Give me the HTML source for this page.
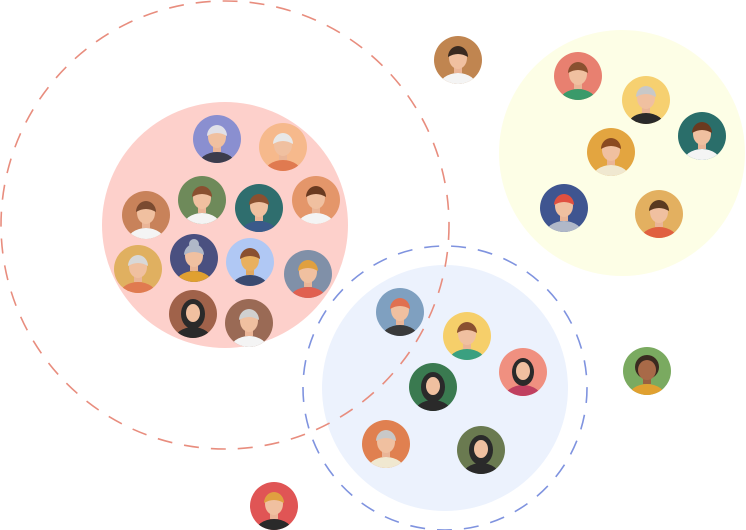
<!DOCTYPE html>
<html><head><meta charset="utf-8"><style>
html,body{margin:0;padding:0;background:#fff;width:746px;height:530px;overflow:hidden}
svg{display:block}
</style></head><body>
<svg width="746" height="530" viewBox="0 0 746 530" xmlns="http://www.w3.org/2000/svg">
<defs><clipPath id="c"><circle r="24"/></clipPath>
<g id="face">
</g></defs>
<circle cx="622" cy="153" r="123" fill="#fdfee6"/>
<circle cx="225" cy="225" r="123" fill="#fdd0cb"/>
<circle cx="445" cy="388" r="123" fill="#ecf2fd"/>
<circle cx="225" cy="225" r="224" fill="none" stroke="#e88d7e" stroke-width="1.6" stroke-dasharray="15 12"/>
<circle cx="445" cy="388" r="142" fill="none" stroke="#7f93df" stroke-width="1.6" stroke-dasharray="15 12"/>
<g id="avs"></g>
<!-- avatars -->
<g transform="translate(217,139)"><circle r="24" fill="#8a8fd0"/><g clip-path="url(#c)"><ellipse cy="27" rx="19" ry="14" fill="#3c3c4c"/><rect x="-4" y="3" width="8" height="10" fill="#eab597"/><ellipse cy="-2" rx="9" ry="11" fill="#f0c0a0"/><path d="M-10,-3 a10,11 0 0 1 20,0 Q0,-9 -10,-3z" fill="#e0e0e8"/></g></g>
<g transform="translate(283,147)"><circle r="24" fill="#f6b98c"/><g clip-path="url(#c)"><ellipse cy="27" rx="19" ry="14" fill="#e07a50"/><rect x="-4" y="3" width="8" height="10" fill="#eab597"/><ellipse cy="-2" rx="9" ry="11" fill="#f0c0a0"/><path d="M-10,-3 a10,11 0 0 1 20,0 Q0,-9 -10,-3z" fill="#e8e8e8"/></g></g>
<g transform="translate(146,215)"><circle r="24" fill="#c8825a"/><g clip-path="url(#c)"><ellipse cy="27" rx="19" ry="14" fill="#f4f4f4"/><rect x="-4" y="3" width="8" height="10" fill="#eab597"/><ellipse cy="-2" rx="9" ry="11" fill="#f0c0a0"/><path d="M-10,-3 a10,11 0 0 1 20,0 Q0,-9 -10,-3z" fill="#7a4a30"/></g></g>
<g transform="translate(202,200)"><circle r="24" fill="#6e8a5a"/><g clip-path="url(#c)"><ellipse cy="27" rx="19" ry="14" fill="#f4f4f4"/><rect x="-4" y="3" width="8" height="10" fill="#eab597"/><ellipse cy="-2" rx="9" ry="11" fill="#f0c0a0"/><path d="M-10,-3 a10,11 0 0 1 20,0 Q0,-9 -10,-3z" fill="#8a5030"/></g></g>
<g transform="translate(259,208)"><circle r="24" fill="#2f6e6e"/><g clip-path="url(#c)"><ellipse cy="27" rx="19" ry="14" fill="#3a5a8a"/><rect x="-4" y="3" width="8" height="10" fill="#eab597"/><ellipse cy="-2" rx="9" ry="11" fill="#f0c0a0"/><path d="M-10,-3 a10,11 0 0 1 20,0 Q0,-9 -10,-3z" fill="#8a5030"/></g></g>
<g transform="translate(316,200)"><circle r="24" fill="#e4966a"/><g clip-path="url(#c)"><ellipse cy="27" rx="19" ry="14" fill="#f4f4f4"/><rect x="-4" y="3" width="8" height="10" fill="#eab597"/><ellipse cy="-2" rx="9" ry="11" fill="#f0c0a0"/><path d="M-10,-3 a10,11 0 0 1 20,0 Q0,-9 -10,-3z" fill="#6a3a20"/></g></g>
<g transform="translate(138,269)"><circle r="24" fill="#e0b060"/><g clip-path="url(#c)"><ellipse cy="27" rx="19" ry="14" fill="#e07a50"/><rect x="-4" y="3" width="8" height="10" fill="#eab597"/><ellipse cy="-2" rx="9" ry="11" fill="#f0c0a0"/><path d="M-10,-3 a10,11 0 0 1 20,0 Q0,-9 -10,-3z" fill="#d8d8d8"/></g></g>
<g transform="translate(194,258)"><circle r="24" fill="#4a5080"/><g clip-path="url(#c)"><ellipse cy="27" rx="19" ry="14" fill="#e0a030"/><rect x="-4" y="3" width="8" height="10" fill="#eab597"/><ellipse cy="-2" rx="9" ry="11" fill="#f0c0a0"/><path d="M-10,-3 a10,11 0 0 1 20,0 Q0,-9 -10,-3z" fill="#b0b8c8"/><circle cy="-14" r="5" fill="#b0b8c8"/></g></g>
<g transform="translate(250,262)"><circle r="24" fill="#b0c8f4"/><g clip-path="url(#c)"><ellipse cy="27" rx="19" ry="14" fill="#3a4a70"/><rect x="-4" y="3" width="8" height="10" fill="#e0a860"/><ellipse cy="-2" rx="9" ry="11" fill="#e8b060"/><path d="M-10,-3 a10,11 0 0 1 20,0 Q0,-9 -10,-3z" fill="#8a5030"/></g></g>
<g transform="translate(308,274)"><circle r="24" fill="#8090a8"/><g clip-path="url(#c)"><ellipse cy="27" rx="19" ry="14" fill="#e06050"/><rect x="-4" y="3" width="8" height="10" fill="#eab597"/><ellipse cy="-2" rx="9" ry="11" fill="#f0c0a0"/><path d="M-10,-3 a10,11 0 0 1 20,0 Q0,-9 -10,-3z" fill="#e0a040"/></g></g>
<g transform="translate(193,314)"><circle r="24" fill="#a0624a"/><g clip-path="url(#c)"><ellipse cy="27" rx="19" ry="14" fill="#2a2a2a"/><ellipse cy="0" rx="12" ry="15" fill="#2a2a2a"/><ellipse cy="-1" rx="7" ry="9" fill="#f0c0a0"/></g></g>
<g transform="translate(249,323)"><circle r="24" fill="#9a6a55"/><g clip-path="url(#c)"><ellipse cy="27" rx="19" ry="14" fill="#f4f4f4"/><rect x="-4" y="3" width="8" height="10" fill="#eab597"/><ellipse cy="-2" rx="9" ry="11" fill="#f0c0a0"/><path d="M-10,-3 a10,11 0 0 1 20,0 Q0,-9 -10,-3z" fill="#d0d0d0"/></g></g>
<g transform="translate(458,60)"><circle r="24" fill="#c08550"/><g clip-path="url(#c)"><ellipse cy="27" rx="19" ry="14" fill="#f4f4f4"/><rect x="-4" y="3" width="8" height="10" fill="#eab597"/><ellipse cy="-2" rx="9" ry="11" fill="#f0c0a0"/><path d="M-10,-3 a10,11 0 0 1 20,0 Q0,-9 -10,-3z" fill="#3a2a20"/></g></g>
<g transform="translate(578,76)"><circle r="24" fill="#e88070"/><g clip-path="url(#c)"><ellipse cy="27" rx="19" ry="14" fill="#3a9a6a"/><rect x="-4" y="3" width="8" height="10" fill="#eab597"/><ellipse cy="-2" rx="9" ry="11" fill="#f0c0a0"/><path d="M-10,-3 a10,11 0 0 1 20,0 Q0,-9 -10,-3z" fill="#8a5030"/></g></g>
<g transform="translate(646,100)"><circle r="24" fill="#f6d070"/><g clip-path="url(#c)"><ellipse cy="27" rx="19" ry="14" fill="#2a2a2a"/><rect x="-4" y="3" width="8" height="10" fill="#eab597"/><ellipse cy="-2" rx="9" ry="11" fill="#f0c0a0"/><path d="M-10,-3 a10,11 0 0 1 20,0 Q0,-9 -10,-3z" fill="#c8c8c8"/></g></g>
<g transform="translate(702,136)"><circle r="24" fill="#2a6e6a"/><g clip-path="url(#c)"><ellipse cy="27" rx="19" ry="14" fill="#f4f4f4"/><rect x="-4" y="3" width="8" height="10" fill="#eab597"/><ellipse cy="-2" rx="9" ry="11" fill="#f0c0a0"/><path d="M-10,-3 a10,11 0 0 1 20,0 Q0,-9 -10,-3z" fill="#6a3a20"/></g></g>
<g transform="translate(611,152)"><circle r="24" fill="#e3a540"/><g clip-path="url(#c)"><ellipse cy="27" rx="19" ry="14" fill="#f0e8d0"/><rect x="-4" y="3" width="8" height="10" fill="#eab597"/><ellipse cy="-2" rx="9" ry="11" fill="#f0c0a0"/><path d="M-10,-3 a10,11 0 0 1 20,0 Q0,-9 -10,-3z" fill="#8a4a20"/></g></g>
<g transform="translate(564,208)"><circle r="24" fill="#3f5590"/><g clip-path="url(#c)"><ellipse cy="27" rx="19" ry="14" fill="#b0b8c8"/><rect x="-4" y="3" width="8" height="10" fill="#eab597"/><ellipse cy="-2" rx="9" ry="11" fill="#f0c0a0"/><path d="M-10,-3 a10,11 0 0 1 20,0 Q0,-9 -10,-3z" fill="#e05040"/></g></g>
<g transform="translate(659,214)"><circle r="24" fill="#e3b060"/><g clip-path="url(#c)"><ellipse cy="27" rx="19" ry="14" fill="#e06040"/><rect x="-4" y="3" width="8" height="10" fill="#eab597"/><ellipse cy="-2" rx="9" ry="11" fill="#f0c0a0"/><path d="M-10,-3 a10,11 0 0 1 20,0 Q0,-9 -10,-3z" fill="#5a3a20"/></g></g>
<g transform="translate(400,312)"><circle r="24" fill="#7fa0c0"/><g clip-path="url(#c)"><ellipse cy="27" rx="19" ry="14" fill="#3a3a3a"/><rect x="-4" y="3" width="8" height="10" fill="#eab597"/><ellipse cy="-2" rx="9" ry="11" fill="#f0c0a0"/><path d="M-10,-3 a10,11 0 0 1 20,0 Q0,-9 -10,-3z" fill="#e07050"/></g></g>
<g transform="translate(467,336)"><circle r="24" fill="#f6cf6a"/><g clip-path="url(#c)"><ellipse cy="27" rx="19" ry="14" fill="#3aa080"/><rect x="-4" y="3" width="8" height="10" fill="#eab597"/><ellipse cy="-2" rx="9" ry="11" fill="#f0c0a0"/><path d="M-10,-3 a10,11 0 0 1 20,0 Q0,-9 -10,-3z" fill="#8a5030"/></g></g>
<g transform="translate(523,372)"><circle r="24" fill="#f09080"/><g clip-path="url(#c)"><ellipse cy="27" rx="19" ry="14" fill="#c04060"/><ellipse cy="0" rx="11" ry="14" fill="#2a2a2a"/><ellipse cy="-1" rx="7" ry="9" fill="#f0c0a0"/></g></g>
<g transform="translate(433,387)"><circle r="24" fill="#3a7a50"/><g clip-path="url(#c)"><ellipse cy="27" rx="19" ry="14" fill="#2a2a2a"/><ellipse cy="0" rx="12" ry="15" fill="#2a2a2a"/><ellipse cy="-1" rx="7" ry="9" fill="#f0c0a0"/></g></g>
<g transform="translate(386,444)"><circle r="24" fill="#e08050"/><g clip-path="url(#c)"><ellipse cy="27" rx="19" ry="14" fill="#f0e8d0"/><rect x="-4" y="3" width="8" height="10" fill="#eab597"/><ellipse cy="-2" rx="9" ry="11" fill="#f0c0a0"/><path d="M-10,-3 a10,11 0 0 1 20,0 Q0,-9 -10,-3z" fill="#c8c8c8"/></g></g>
<g transform="translate(481,450)"><circle r="24" fill="#6a7a50"/><g clip-path="url(#c)"><ellipse cy="27" rx="19" ry="14" fill="#2a2a2a"/><ellipse cy="0" rx="12" ry="15" fill="#2a2a2a"/><ellipse cy="-1" rx="7" ry="9" fill="#f0c0a0"/></g></g>
<g transform="translate(647,371)"><circle r="24" fill="#7aaa60"/><g clip-path="url(#c)"><ellipse cy="27" rx="19" ry="14" fill="#e0a030"/><rect x="-4" y="3" width="8" height="10" fill="#9a6040"/><circle cy="-4" r="12" fill="#3a2a20"/><ellipse cy="-1" rx="9" ry="10" fill="#a86a48"/></g></g>
<g transform="translate(274,506)"><circle r="24" fill="#e05555"/><g clip-path="url(#c)"><ellipse cy="27" rx="19" ry="14" fill="#2a2a2a"/><rect x="-4" y="3" width="8" height="10" fill="#eab597"/><ellipse cy="-2" rx="9" ry="11" fill="#f0c0a0"/><path d="M-10,-3 a10,11 0 0 1 20,0 Q0,-9 -10,-3z" fill="#e0a040"/></g></g>
</svg>
</body></html>
